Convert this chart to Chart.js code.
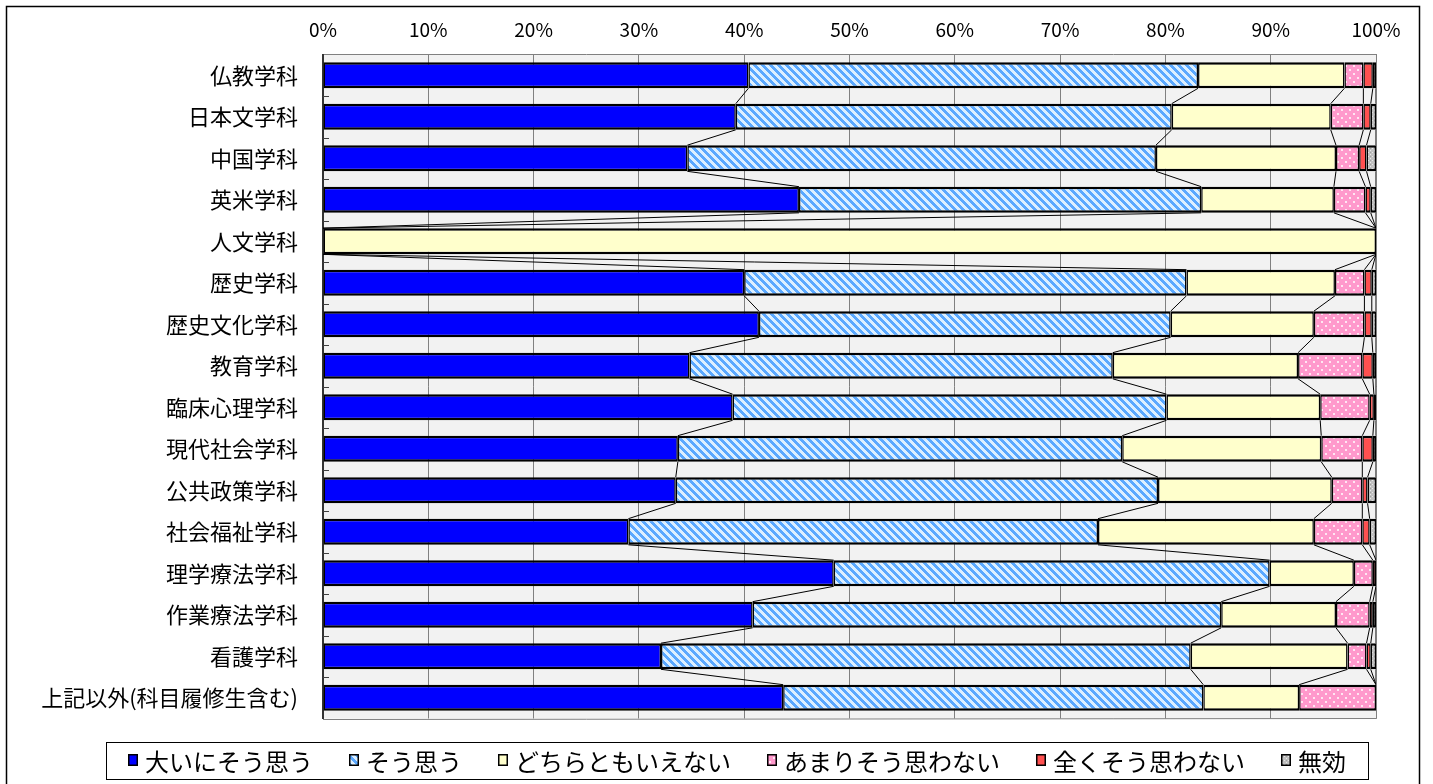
<!DOCTYPE html>
<html lang="ja">
<head>
<meta charset="utf-8">
<title>学科別回答</title>
<script src="https://cdn.jsdelivr.net/npm/chart.js@4.4.1/dist/chart.umd.min.js"></script>
<style>
  html, body { margin: 0; padding: 0; background: #fff; }
  #wrap { width: 1433px; height: 784px; }
</style>
</head>
<body>
<div id="wrap"><canvas id="deptChart" width="1433" height="784"></canvas></div>
<script>
// rows, top to bottom
const departments = [
    '仏教学科', '日本文学科', '中国学科', '英米学科', '人文学科', '歴史学科',
    '歴史文化学科', '教育学科', '臨床心理学科', '現代社会学科', '公共政策学科',
    '社会福祉学科', '理学療法学科', '作業療法学科', '看護学科', '上記以外(科目履修生含む)'
];

const answerLabels = ['大いにそう思う', 'そう思う', 'どちらともいえない', 'あまりそう思わない', '全くそう思わない', '無効'];

// percent per department
const stronglyAgree = [40.4, 39.2, 34.6, 45.2, 0, 40.0, 41.4, 34.8, 38.9, 33.7, 33.5, 29.0, 48.5, 40.8, 32.1, 43.7];
const agree         = [42.7, 41.4, 44.5, 38.2, 0, 42.0, 39.1, 40.2, 41.2, 42.2, 45.8, 44.6, 41.4, 44.5, 50.3, 39.9];
const neutral       = [13.9, 15.1, 17.1, 12.6, 100, 14.1, 13.6, 17.6, 14.6, 18.9, 16.5, 20.5, 8.0, 10.9, 14.9, 9.1];
const disagree      = [1.8, 3.1, 2.2, 3.0, 0, 2.8, 4.8, 6.1, 4.7, 3.9, 2.9, 4.6, 1.8, 3.2, 1.8, 7.3];
const stronglyDis   = [0.9, 0.7, 0.7, 0.5, 0, 0.7, 0.7, 1.0, 0.4, 1.0, 0.5, 0.7, 0.3, 0.3, 0.4, 0];
const invalid       = [0.3, 0.5, 0.9, 0.5, 0, 0.4, 0.4, 0.3, 0.2, 0.3, 0.8, 0.6, 0, 0.3, 0.5, 0];

const xTicks = [0, 10, 20, 30, 40, 50, 60, 70, 80, 90, 100];

// small canvas tiles used as fills
function makeTile(w, h, paint) {
    const c = document.createElement('canvas');
    c.width = w; c.height = h;
    const g = c.getContext('2d');
    paint(g, w, h);
    return g.createPattern(c, 'repeat');
}

const stripeFill = makeTile(8, 8, (g, w, h) => {
    g.fillStyle = '#dcefff';
    g.fillRect(0, 0, w, h);
    g.fillStyle = '#5aa8ff';
    for (let y = 0; y < h; y++) {
        for (let x = 0; x < w; x++) {
            if ((x - y + w) % w < 4) g.fillRect(x, y, 1, 1);
        }
    }
});

const dotFill = makeTile(8, 8, (g, w, h) => {
    g.fillStyle = '#ff99cc';
    g.fillRect(0, 0, w, h);
    g.fillStyle = '#ffe6f2';
    g.fillRect(1, 1, 2, 2);
    g.fillRect(5, 5, 2, 2);
});

const greyFill = makeTile(4, 4, (g, w, h) => {
    g.fillStyle = '#c0c0c0';
    g.fillRect(0, 0, w, h);
    g.fillStyle = '#e8e8e8';
    g.fillRect(0, 0, 1, 1);
    g.fillRect(2, 2, 1, 1);
    g.fillStyle = '#a0a0a0';
    g.fillRect(2, 0, 1, 1);
});

const fills = ['#0000ff', stripeFill, '#ffffcc', dotFill, '#ff5050', greyFill];
const values = [stronglyAgree, agree, neutral, disagree, stronglyDis, invalid];

const FONT = '"Noto Sans CJK JP", "Noto Sans", sans-serif';

// plot background and outer frame
const backdrop = {
    id: 'backdrop',
    beforeDraw(chart) {
        const { ctx, chartArea: a } = chart;
        ctx.save();
        ctx.fillStyle = '#fff';
        ctx.fillRect(0, 0, chart.width, chart.height);
        ctx.fillStyle = '#f2f2f2';
        ctx.fillRect(a.left, a.top, a.right - a.left, a.bottom - a.top);
        ctx.restore();
    },
    afterDraw(chart) {
        const { ctx, chartArea: a } = chart;
        ctx.save();
        // right + bottom edges of plot
        ctx.strokeStyle = '#808080';
        ctx.lineWidth = 1;
        ctx.beginPath();
        ctx.moveTo(Math.round(a.right) + 0.5, a.top);
        ctx.lineTo(Math.round(a.right) + 0.5, a.bottom);
        ctx.lineTo(a.left, Math.round(a.bottom) + 0.5);
        ctx.stroke();
        // small inward ticks between rows
        const band = (a.bottom - a.top) / departments.length;
        ctx.strokeStyle = '#404040';
        ctx.beginPath();
        for (let i = 1; i < departments.length; i++) {
            const py = Math.round(a.top + band * i) + 0.5;
            ctx.moveTo(a.left, py);
            ctx.lineTo(a.left + 6, py);
        }
        ctx.stroke();
        // outer frame
        ctx.strokeStyle = '#000';
        ctx.lineWidth = 1.5;
        ctx.strokeRect(6.5, 6.5, 1413, 790);
        ctx.restore();
    }
};

// thin lines joining segment edges of neighbouring bars
const seriesLines = {
    id: 'seriesLines',
    afterDatasetsDraw(chart) {
        const { ctx } = chart;
        const xs = chart.scales.x;
        const n = departments.length;
        const cum = values.map(() => new Array(n).fill(0));
        for (let i = 0; i < n; i++) {
            let s = 0;
            values.forEach((arr, d) => { s += arr[i]; cum[d][i] = s; });
        }
        const bars = chart.getDatasetMeta(0).data;
        ctx.save();
        ctx.strokeStyle = '#000';
        ctx.lineWidth = 1;
        ctx.beginPath();
        for (let d = 0; d < values.length; d++) {
            for (let i = 0; i < n - 1; i++) {
                const a = bars[i], b = bars[i + 1];
                ctx.moveTo(xs.getPixelForValue(cum[d][i]), a.y + a.height / 2);
                ctx.lineTo(xs.getPixelForValue(cum[d][i + 1]), b.y - b.height / 2);
            }
        }
        ctx.stroke();
        ctx.restore();
    }
};

// boxed legend along the bottom
const boxedLegend = {
    id: 'boxedLegend',
    afterDraw(chart) {
        const { ctx } = chart;
        const boxW = 10, boxH = 12, boxGap = 7, itemGap = 36;
        const centre = 737, top = 742, bottom = 779;
        const cy = (top + bottom) / 2;
        ctx.save();
        ctx.font = '24px ' + FONT;
        const items = chart.data.datasets.map(ds => ({
            text: ds.label,
            fill: ds.backgroundColor,
            w: boxW + boxGap + ctx.measureText(ds.label).width
        }));
        const total = items.reduce((s, it) => s + it.w, 0) + itemGap * (items.length - 1);
        let x = Math.round(centre - total / 2);
        ctx.strokeStyle = '#000';
        ctx.lineWidth = 1;
        ctx.strokeRect(x - 22 + 0.5, top + 0.5, Math.round(total + 44), bottom - top);
        ctx.textBaseline = 'middle';
        items.forEach(it => {
            const by = Math.round(cy - boxH / 2 - 1);
            ctx.fillStyle = it.fill;
            ctx.fillRect(x, by, boxW, boxH);
            ctx.lineWidth = 1.5;
            ctx.strokeRect(x + 0.75, by + 0.75, boxW - 1.5, boxH - 1.5);
            ctx.fillStyle = '#000';
            ctx.fillText(it.text, x + boxW + boxGap, cy + 1);
            x += it.w + itemGap;
        });
        ctx.restore();
    }
};

const datasets = answerLabels.map((label, d) => ({
    label: label,
    data: values[d],
    backgroundColor: fills[d],
    borderColor: '#000',
    borderWidth: { top: 2.5, bottom: 2.5, left: 1.5, right: 1.5 },
    borderSkipped: false,
    barPercentage: 0.63,
    categoryPercentage: 1
}));

new Chart(document.getElementById('deptChart'), {
    type: 'bar',
    data: { labels: departments, datasets: datasets },
    options: {
        responsive: false,
        animation: false,
        indexAxis: 'y',
        layout: { padding: { left: 0, right: 57, top: 0, bottom: 65.5 } },
        plugins: {
            legend: { display: false },
            tooltip: { enabled: false }
        },
        scales: {
            x: {
                position: 'top',
                stacked: true,
                min: 0,
                max: 100,
                afterBuildTicks: s => { s.ticks = xTicks.map(v => ({ value: v })); },
                ticks: {
                    callback: v => v + '%',
                    color: '#000',
                    font: { family: FONT, size: 19 },
                    padding: 13,
                    maxRotation: 0
                },
                grid: { color: '#808080', drawTicks: false },
                border: { color: '#808080' },
                afterFit: s => { s.height = 54.5; }
            },
            y: {
                stacked: true,
                ticks: {
                    color: '#000',
                    font: { family: FONT, size: 22 },
                    padding: 25
                },
                grid: { display: false, drawTicks: false },
                border: { color: '#333', width: 2 },
                afterFit: s => { s.width = 323; }
            }
        }
    },
    plugins: [backdrop, seriesLines, boxedLegend]
});
</script>
</body>
</html>
